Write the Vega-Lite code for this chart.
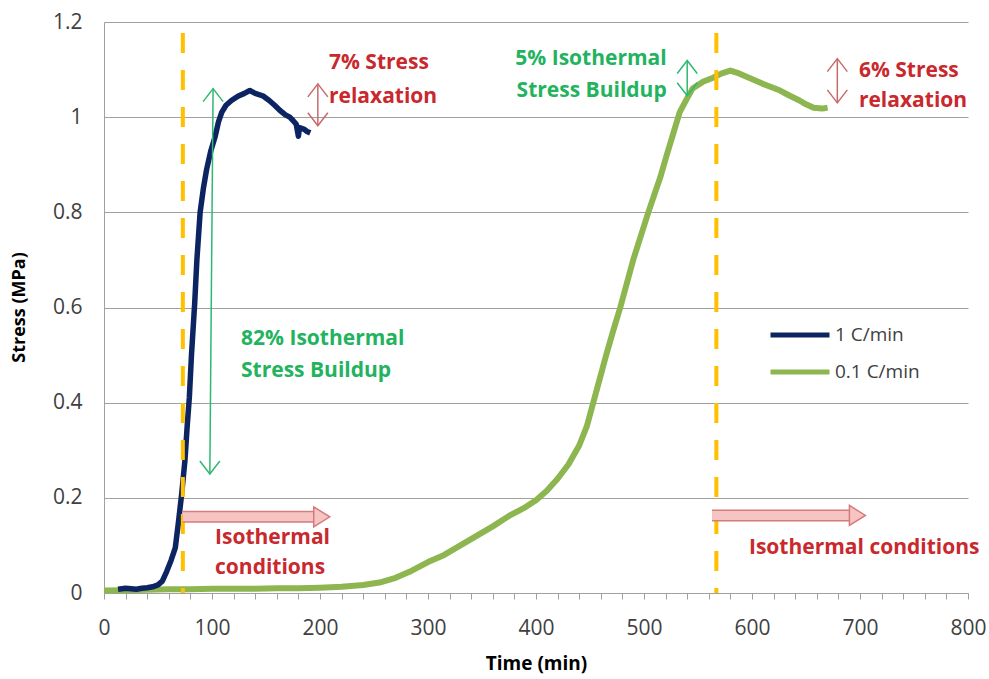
{
  "$schema": "https://vega.github.io/schema/vega-lite/v6.json",
  "width": 864,
  "height": 571,
  "autosize": {"type": "none"},
  "padding": {"left": 104, "top": 22, "right": 21, "bottom": 86},
  "config": {"view": {"stroke": null}, "font": "Open Sans", "axisX": {"labelOverlap": false, "labelSeparation": 0}},
  "datasets": {
    "curves": [
      {"series": "1 C/min", "time": 13, "stress": 0.008},
      {"series": "1 C/min", "time": 20, "stress": 0.01},
      {"series": "1 C/min", "time": 25, "stress": 0.009},
      {"series": "1 C/min", "time": 30, "stress": 0.008},
      {"series": "1 C/min", "time": 35, "stress": 0.01},
      {"series": "1 C/min", "time": 40, "stress": 0.011},
      {"series": "1 C/min", "time": 45, "stress": 0.013},
      {"series": "1 C/min", "time": 50, "stress": 0.017},
      {"series": "1 C/min", "time": 54, "stress": 0.025},
      {"series": "1 C/min", "time": 58, "stress": 0.045},
      {"series": "1 C/min", "time": 62, "stress": 0.068},
      {"series": "1 C/min", "time": 66, "stress": 0.095},
      {"series": "1 C/min", "time": 69, "stress": 0.15},
      {"series": "1 C/min", "time": 72, "stress": 0.21},
      {"series": "1 C/min", "time": 75, "stress": 0.28},
      {"series": "1 C/min", "time": 77, "stress": 0.35},
      {"series": "1 C/min", "time": 79, "stress": 0.41},
      {"series": "1 C/min", "time": 81, "stress": 0.5},
      {"series": "1 C/min", "time": 84, "stress": 0.61},
      {"series": "1 C/min", "time": 86, "stress": 0.7},
      {"series": "1 C/min", "time": 89, "stress": 0.8},
      {"series": "1 C/min", "time": 92, "stress": 0.85},
      {"series": "1 C/min", "time": 95, "stress": 0.89},
      {"series": "1 C/min", "time": 99, "stress": 0.93},
      {"series": "1 C/min", "time": 103, "stress": 0.96},
      {"series": "1 C/min", "time": 106, "stress": 0.99},
      {"series": "1 C/min", "time": 109, "stress": 1.01},
      {"series": "1 C/min", "time": 113, "stress": 1.025},
      {"series": "1 C/min", "time": 118, "stress": 1.035},
      {"series": "1 C/min", "time": 124, "stress": 1.044},
      {"series": "1 C/min", "time": 130, "stress": 1.05},
      {"series": "1 C/min", "time": 135, "stress": 1.056},
      {"series": "1 C/min", "time": 140, "stress": 1.05},
      {"series": "1 C/min", "time": 147, "stress": 1.045},
      {"series": "1 C/min", "time": 153, "stress": 1.035},
      {"series": "1 C/min", "time": 158, "stress": 1.025},
      {"series": "1 C/min", "time": 163, "stress": 1.014},
      {"series": "1 C/min", "time": 168, "stress": 1.005},
      {"series": "1 C/min", "time": 172, "stress": 1.0},
      {"series": "1 C/min", "time": 175, "stress": 0.993},
      {"series": "1 C/min", "time": 178, "stress": 0.985},
      {"series": "1 C/min", "time": 180, "stress": 0.96},
      {"series": "1 C/min", "time": 181, "stress": 0.978},
      {"series": "1 C/min", "time": 185, "stress": 0.975},
      {"series": "1 C/min", "time": 188, "stress": 0.97},
      {"series": "1 C/min", "time": 191, "stress": 0.967},
      {"series": "0.1 C/min", "time": 0, "stress": 0.005},
      {"series": "0.1 C/min", "time": 20, "stress": 0.006},
      {"series": "0.1 C/min", "time": 40, "stress": 0.007},
      {"series": "0.1 C/min", "time": 60, "stress": 0.008},
      {"series": "0.1 C/min", "time": 80, "stress": 0.008},
      {"series": "0.1 C/min", "time": 100, "stress": 0.009},
      {"series": "0.1 C/min", "time": 120, "stress": 0.009},
      {"series": "0.1 C/min", "time": 140, "stress": 0.009},
      {"series": "0.1 C/min", "time": 160, "stress": 0.01},
      {"series": "0.1 C/min", "time": 180, "stress": 0.01},
      {"series": "0.1 C/min", "time": 200, "stress": 0.011},
      {"series": "0.1 C/min", "time": 220, "stress": 0.013},
      {"series": "0.1 C/min", "time": 240, "stress": 0.017},
      {"series": "0.1 C/min", "time": 255, "stress": 0.022},
      {"series": "0.1 C/min", "time": 270, "stress": 0.032},
      {"series": "0.1 C/min", "time": 285, "stress": 0.047},
      {"series": "0.1 C/min", "time": 300, "stress": 0.065},
      {"series": "0.1 C/min", "time": 315, "stress": 0.08},
      {"series": "0.1 C/min", "time": 330, "stress": 0.1},
      {"series": "0.1 C/min", "time": 345, "stress": 0.12},
      {"series": "0.1 C/min", "time": 360, "stress": 0.14},
      {"series": "0.1 C/min", "time": 375, "stress": 0.162},
      {"series": "0.1 C/min", "time": 390, "stress": 0.18},
      {"series": "0.1 C/min", "time": 400, "stress": 0.195},
      {"series": "0.1 C/min", "time": 410, "stress": 0.215},
      {"series": "0.1 C/min", "time": 420, "stress": 0.24},
      {"series": "0.1 C/min", "time": 430, "stress": 0.27},
      {"series": "0.1 C/min", "time": 440, "stress": 0.31},
      {"series": "0.1 C/min", "time": 447, "stress": 0.35},
      {"series": "0.1 C/min", "time": 453, "stress": 0.4},
      {"series": "0.1 C/min", "time": 459, "stress": 0.45},
      {"series": "0.1 C/min", "time": 465, "stress": 0.5},
      {"series": "0.1 C/min", "time": 472, "stress": 0.555},
      {"series": "0.1 C/min", "time": 478, "stress": 0.6},
      {"series": "0.1 C/min", "time": 484, "stress": 0.65},
      {"series": "0.1 C/min", "time": 490, "stress": 0.7},
      {"series": "0.1 C/min", "time": 497, "stress": 0.75},
      {"series": "0.1 C/min", "time": 504, "stress": 0.8},
      {"series": "0.1 C/min", "time": 510, "stress": 0.84},
      {"series": "0.1 C/min", "time": 515, "stress": 0.873},
      {"series": "0.1 C/min", "time": 521, "stress": 0.92},
      {"series": "0.1 C/min", "time": 527, "stress": 0.965},
      {"series": "0.1 C/min", "time": 533, "stress": 1.01},
      {"series": "0.1 C/min", "time": 540, "stress": 1.04},
      {"series": "0.1 C/min", "time": 545, "stress": 1.06},
      {"series": "0.1 C/min", "time": 555, "stress": 1.075},
      {"series": "0.1 C/min", "time": 564, "stress": 1.083},
      {"series": "0.1 C/min", "time": 572, "stress": 1.092},
      {"series": "0.1 C/min", "time": 580, "stress": 1.098},
      {"series": "0.1 C/min", "time": 588, "stress": 1.092},
      {"series": "0.1 C/min", "time": 595, "stress": 1.085},
      {"series": "0.1 C/min", "time": 610, "stress": 1.07},
      {"series": "0.1 C/min", "time": 626, "stress": 1.056},
      {"series": "0.1 C/min", "time": 635, "stress": 1.045},
      {"series": "0.1 C/min", "time": 644, "stress": 1.035},
      {"series": "0.1 C/min", "time": 650, "stress": 1.027},
      {"series": "0.1 C/min", "time": 657, "stress": 1.02},
      {"series": "0.1 C/min", "time": 665, "stress": 1.018},
      {"series": "0.1 C/min", "time": 670, "stress": 1.02}
    ],
    "markers": [{"time": 73}, {"time": 567}],
    "arrows": [
      {"kind": "green", "time": 98, "time2": 101, "lo": 0.25, "hi": 1.06},
      {"kind": "green", "time": 540, "time2": 540, "lo": 1.045, "hi": 1.119},
      {"kind": "red", "time": 198, "time2": 198, "lo": 0.982, "hi": 1.07},
      {"kind": "red", "time": 679, "time2": 679, "lo": 1.03, "hi": 1.123}
    ],
    "blocks": [
      {"time": 73, "end": 196, "tip": 201.6, "stress": 0.16},
      {"time": 563, "end": 690, "tip": 697.6, "stress": 0.163}
    ],
    "labels": [
      {"kind": "red", "align": "left", "text": "7% Stress", "time": 208.3, "stress": 1.114},
      {"kind": "red", "align": "left", "text": "relaxation", "time": 208.3, "stress": 1.043},
      {"kind": "green", "align": "right", "text": "5% Isothermal", "time": 521, "stress": 1.123},
      {"kind": "green", "align": "right", "text": "Stress Buildup", "time": 521, "stress": 1.056},
      {"kind": "red", "align": "left", "text": "6% Stress", "time": 699, "stress": 1.098},
      {"kind": "red", "align": "left", "text": "relaxation", "time": 699, "stress": 1.033},
      {"kind": "green", "align": "left", "text": "82% Isothermal", "time": 126.9, "stress": 0.533},
      {"kind": "green", "align": "left", "text": "Stress Buildup", "time": 126.9, "stress": 0.466},
      {"kind": "red", "align": "left", "text": "Isothermal", "time": 102.8, "stress": 0.115},
      {"kind": "red", "align": "left", "text": "conditions", "time": 102.8, "stress": 0.052},
      {"kind": "red", "align": "left", "text": "Isothermal conditions", "time": 597.2, "stress": 0.094}
    ]
  },
  "layer": [
    {
      "data": {"name": "curves"},
      "transform": [{"filter": "datum.series === '0.1 C/min'"}],
      "mark": {"type": "line", "strokeWidth": 6, "strokeJoin": "round", "strokeCap": "butt"},
      "encoding": {
        "x": {
          "field": "time", "type": "quantitative",
          "scale": {"domain": [0, 800], "nice": false},
          "axis": {
            "values": [0,20,40,60,80,100,120,140,160,180,200,220,240,260,280,300,320,340,360,380,400,420,440,460,480,500,520,540,560,580,600,620,640,660,680,700,720,740,760,780,800],
            "tickCount": 60,
            "labelExpr": "datum.value % 100 === 0 ? datum.label : ''",
            "grid": false, "tickSize": 6, "tickColor": "#a0a0a0", "domainColor": "#a0a0a0",
            "labelPadding": 18, "labelFontSize": 21, "labelColor": "#404040", "labelFlush": false,
            "labelOverlap": false, "labelBound": false, "labelSeparation": 0,
            "title": "Time (min)", "titleFontSize": 19, "titleFontWeight": "bold", "titleColor": "#000000",
            "titleY": 70, "titleBaseline": "middle"
          }
        },
        "y": {
          "field": "stress", "type": "quantitative",
          "scale": {"domain": [0, 1.2], "nice": false},
          "axis": {
            "values": [0, 0.2, 0.4, 0.6, 0.8, 1, 1.2], "format": "~g",
            "grid": true, "gridColor": "#a0a0a0", "ticks": false, "domainColor": "#a0a0a0",
            "labelPadding": 22, "labelFontSize": 21, "labelColor": "#404040",
            "title": "Stress (MPa)", "titleFontSize": 18, "titleFontWeight": "bold", "titleColor": "#000000",
            "titleX": -85, "titleY": 285, "titleBaseline": "middle"
          }
        },
        "color": {
          "field": "series", "type": "nominal",
          "scale": {"domain": ["1 C/min", "0.1 C/min"], "range": ["#0c2461", "#8db650"]},
          "legend": {
            "orient": "none", "legendX": 664, "legendY": 298, "title": null,
            "symbolType": "stroke", "symbolSize": 3481, "symbolStrokeWidth": 5,
            "clipHeight": 30, "rowPadding": 7, "labelOffset": 3, "labelFontSize": 19, "labelColor": "#404040", "labelFont": "Open Sans"
          }
        }
      }
    },
    {
      "data": {"name": "curves"},
      "transform": [{"filter": "datum.series === '1 C/min'"}],
      "mark": {"type": "line", "strokeWidth": 5.5, "strokeJoin": "round"},
      "encoding": {
        "x": {"field": "time", "type": "quantitative"},
        "y": {"field": "stress", "type": "quantitative"},
        "color": {"field": "series", "type": "nominal"}
      }
    },
    {
      "data": {"name": "markers"},
      "mark": {"type": "rule", "color": "#ffc000", "strokeWidth": 4, "strokeDash": [20, 17]},
      "encoding": {
        "x": {"field": "time", "type": "quantitative"},
        "y": {"datum": 1.177, "type": "quantitative"},
        "y2": {"datum": 0}
      }
    },
    {
      "data": {"name": "arrows"},
      "mark": {"type": "rule", "strokeWidth": 1.5},
      "encoding": {
        "x": {"field": "time", "type": "quantitative"},
        "x2": {"field": "time2"},
        "y": {"field": "lo", "type": "quantitative"},
        "y2": {"field": "hi"},
        "stroke": {"field": "kind", "type": "nominal", "scale": {"domain": ["green", "red"], "range": ["#2eb872", "#c96a6a"]}, "legend": null}
      }
    },
    {
      "data": {"name": "arrows"},
      "mark": {"type": "point", "shape": "M-1,1.3L0,0L1,1.3", "size": 400, "filled": false, "strokeWidth": 1.5, "opacity": 1},
      "encoding": {
        "x": {"field": "time2", "type": "quantitative"},
        "y": {"field": "hi", "type": "quantitative"},
        "stroke": {"field": "kind", "type": "nominal", "legend": null}
      }
    },
    {
      "data": {"name": "arrows"},
      "mark": {"type": "point", "shape": "M-1,-1.3L0,0L1,-1.3", "size": 400, "filled": false, "strokeWidth": 1.5, "opacity": 1},
      "encoding": {
        "x": {"field": "time", "type": "quantitative"},
        "y": {"field": "lo", "type": "quantitative"},
        "stroke": {"field": "kind", "type": "nominal", "legend": null}
      }
    },
    {
      "data": {"name": "blocks"},
      "mark": {"type": "rule", "strokeWidth": 12, "color": "#d67b7b", "strokeCap": "butt"},
      "encoding": {
        "x": {"field": "time", "type": "quantitative"},
        "x2": {"field": "end"},
        "y": {"field": "stress", "type": "quantitative"}
      }
    },
    {
      "data": {"name": "blocks"},
      "mark": {"type": "rule", "strokeWidth": 9, "color": "#f7c4c4", "strokeCap": "butt"},
      "encoding": {
        "x": {"field": "time", "type": "quantitative"},
        "x2": {"field": "end"},
        "y": {"field": "stress", "type": "quantitative"}
      }
    },
    {
      "data": {"name": "blocks"},
      "mark": {"type": "point", "shape": "M-0.8,-1L0.8,0L-0.8,1Z", "size": 400, "filled": true, "fill": "#f7c4c4", "stroke": "#d67b7b", "strokeWidth": 1.5, "opacity": 1},
      "encoding": {
        "x": {"field": "tip", "type": "quantitative"},
        "y": {"field": "stress", "type": "quantitative"}
      }
    },
    {
      "data": {"name": "labels"},
      "transform": [{"filter": "datum.align === 'left'"}],
      "mark": {"type": "text", "align": "left", "baseline": "middle", "fontSize": 21, "fontWeight": "bold", "font": "Open Sans"},
      "encoding": {
        "x": {"field": "time", "type": "quantitative"},
        "y": {"field": "stress", "type": "quantitative"},
        "text": {"field": "text"},
        "fill": {"field": "kind", "type": "nominal", "scale": {"domain": ["green", "red"], "range": ["#22b35e", "#c9282d"]}, "legend": null}
      }
    },
    {
      "data": {"name": "labels"},
      "transform": [{"filter": "datum.align === 'right'"}],
      "mark": {"type": "text", "align": "right", "baseline": "middle", "fontSize": 21, "fontWeight": "bold", "font": "Open Sans"},
      "encoding": {
        "x": {"field": "time", "type": "quantitative"},
        "y": {"field": "stress", "type": "quantitative"},
        "text": {"field": "text"},
        "fill": {"field": "kind", "type": "nominal", "legend": null}
      }
    }
  ]
}
